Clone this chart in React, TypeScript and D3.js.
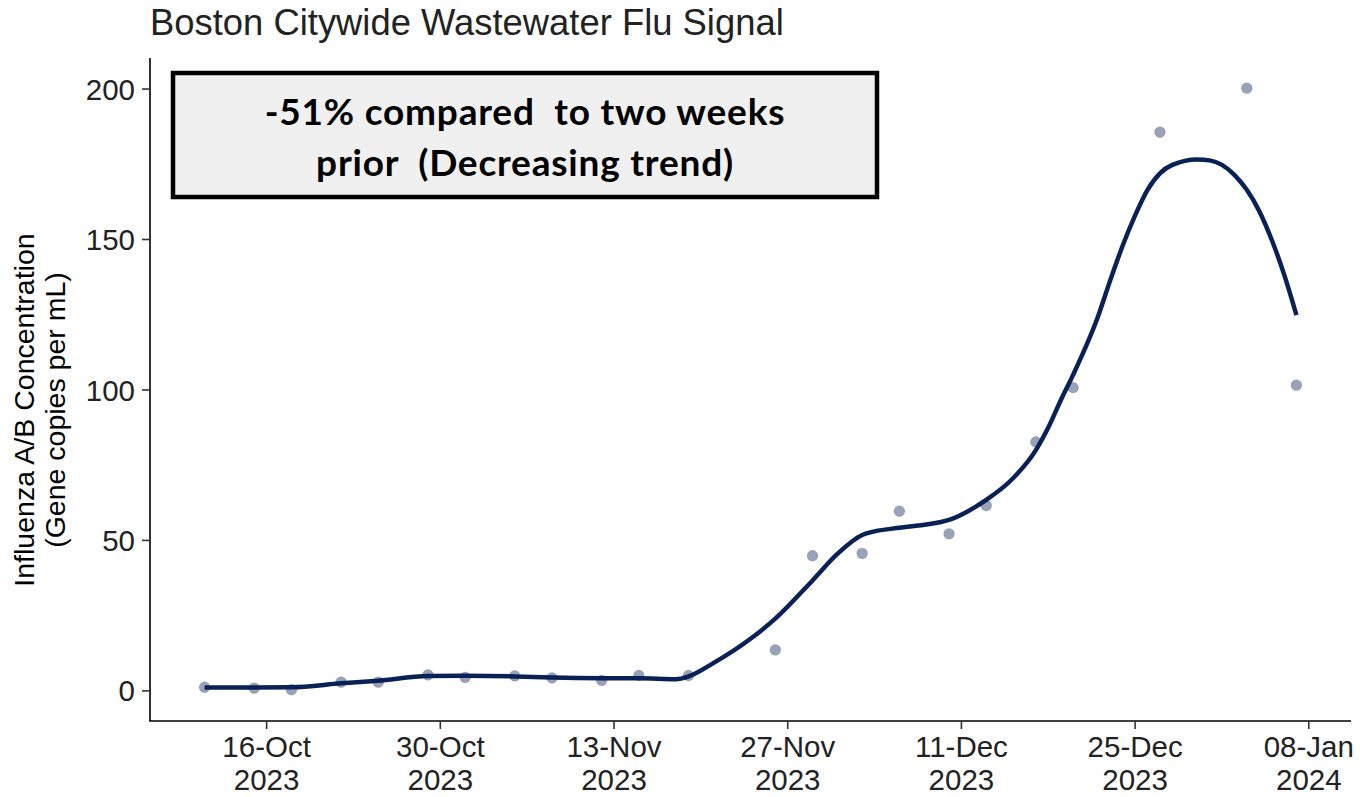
import React from "react";
import * as d3 from "d3";

const pointDates = [
  "2023-10-11", "2023-10-15", "2023-10-18", "2023-10-22", "2023-10-25", "2023-10-29",
  "2023-11-01", "2023-11-05", "2023-11-08", "2023-11-12", "2023-11-15", "2023-11-19",
  "2023-11-26", "2023-11-29", "2023-12-03", "2023-12-06", "2023-12-10", "2023-12-13",
  "2023-12-17", "2023-12-20", "2023-12-27", "2024-01-03", "2024-01-07",
];
const pointValues = [
  1.2, 0.9, 0.4, 2.9, 2.9, 5.3,
  4.5, 5.0, 4.3, 3.5, 5.1, 5.1,
  13.6, 44.9, 45.7, 59.7, 52.2, 61.6,
  82.7, 100.8, 185.7, 200.3, 101.6,
];

const smoothDates = [
  "2023-10-11", "2023-10-18", "2023-10-22", "2023-10-25", "2023-10-29", "2023-11-01",
  "2023-11-05", "2023-11-08", "2023-11-12", "2023-11-15", "2023-11-18", "2023-11-19",
  "2023-11-21", "2023-11-24", "2023-11-26", "2023-11-29", "2023-12-01", "2023-12-03",
  "2023-12-04", "2023-12-06", "2023-12-08", "2023-12-10", "2023-12-13", "2023-12-15",
  "2023-12-17", "2023-12-18", "2023-12-19", "2023-12-20", "2023-12-22", "2023-12-23",
  "2023-12-24", "2023-12-25", "2023-12-26", "2023-12-27", "2023-12-28", "2023-12-30",
  "2023-12-31", "2024-01-01", "2024-01-02", "2024-01-03", "2024-01-04", "2024-01-05",
  "2024-01-06", "2024-01-07",
];
const smoothValues = [
  1.1, 1.2, 2.5, 3.4, 4.9, 5.0,
  4.8, 4.4, 4.2, 4.2, 3.9, 4.8,
  9.2, 17.3, 24.0, 36.7, 45.5, 51.8,
  53.0, 54.2, 55.2, 56.8, 63.5, 70.0,
  80.0, 87.5, 96.5, 105.0, 124.3, 136.5,
  148.0, 158.0, 166.5, 172.0, 174.8, 176.6,
  176.3, 174.8, 171.5, 166.5, 159.5, 150.0,
  138.5, 124.9,
];

const yTicks = [0, 50, 100, 150, 200];
const xTickDates = [
  "2023-10-16", "2023-10-30", "2023-11-13", "2023-11-27",
  "2023-12-11", "2023-12-25", "2024-01-08",
];

const titleText = "Boston Citywide Wastewater Flu Signal";
const yTitleLines = ["Influenza A/B Concentration", "(Gene copies per mL)"];
const annotationLines = ["-51% compared  to two weeks", "prior  (Decreasing trend)"];

const parse = d3.utcParse("%Y-%m-%d");
const fmtDay = d3.utcFormat("%d-%b");
const fmtYear = d3.utcFormat("%Y");

export default function App() {
  const W = 1360, H = 797;
  const panel = { left: 150, right: 1351, top: 58, bottom: 721 };

  const pts = pointDates.map((d, i) => ({ date: parse(d)!, value: pointValues[i] }));
  const smooth = smoothDates.map((d, i) => ({ date: parse(d)!, value: smoothValues[i] }));

  const [dMin, dMax] = d3.extent(pts, (p) => p.date) as [Date, Date];
  const span = +dMax - +dMin;
  const x = d3
    .scaleUtc()
    .domain([new Date(+dMin - span * 0.05), new Date(+dMax + span * 0.05)])
    .range([panel.left, panel.right]);

  const yMax = d3.max(pts, (p) => p.value)!;
  const yMin = 0;
  const ySpan = yMax - yMin;
  const y = d3
    .scaleLinear()
    .domain([yMin - ySpan * 0.05, yMax + ySpan * 0.05])
    .range([panel.bottom, panel.top]);

  const line = d3
    .line<{ date: Date; value: number }>()
    .x((d) => x(d.date))
    .y((d) => y(d.value))
    .curve(d3.curveMonotoneX);

  const font = "'Liberation Sans', Arial, Helvetica, sans-serif";
  const xTicks = xTickDates.map((d) => parse(d)!);

  const boxX = 173, boxY = 73, boxW = 704, boxH = 124;

  return (
    <svg
      width={W}
      height={H}
      style={{ position: "absolute", left: 0, top: 0, background: "#fff" }}
      fontFamily={font}
    >
      <rect x={0} y={0} width={W} height={H} fill="#fff" />
      <text x={150} y={35} fontSize={36.4} fill="#222">
        {titleText}
      </text>

      {/* points */}
      {pts.map((p, i) => (
        <circle
          key={i}
          cx={x(p.date)}
          cy={y(p.value)}
          r={5.4}
          fill="#0a2156"
          fillOpacity={0.42}
          stroke="#0a2156"
          strokeOpacity={0.15}
          strokeWidth={1}
        />
      ))}

      {/* smooth line */}
      <path d={line(smooth)!} fill="none" stroke="#0a2156" strokeWidth={4.5} strokeLinejoin="round" strokeLinecap="butt" />

      {/* axes */}
      <line x1={panel.left} x2={panel.left} y1={panel.top} y2={panel.bottom} stroke="#000" strokeWidth={1.6} />
      <line x1={panel.left - 0.8} x2={panel.right} y1={panel.bottom} y2={panel.bottom} stroke="#000" strokeWidth={1.6} />

      {yTicks.map((t) => (
        <g key={t}>
          <line x1={panel.left - 8} x2={panel.left} y1={y(t)} y2={y(t)} stroke="#333" strokeWidth={1.6} />
          <text x={panel.left - 15} y={y(t)} dy="0.36em" textAnchor="end" fontSize={29.5} fill="#222">
            {t}
          </text>
        </g>
      ))}

      {xTicks.map((t, i) => (
        <g key={i}>
          <line x1={x(t)} x2={x(t)} y1={panel.bottom} y2={panel.bottom + 8} stroke="#333" strokeWidth={1.6} />
          <text x={x(t)} y={757} textAnchor="middle" fontSize={29.5} fill="#222">
            {fmtDay(t)}
          </text>
          <text x={x(t)} y={790} textAnchor="middle" fontSize={29.5} fill="#222">
            {fmtYear(t)}
          </text>
        </g>
      ))}

      {/* y axis title */}
      <text transform={`translate(34, 410) rotate(-90)`} textAnchor="middle" fontSize={28.5} fill="#000">
        <tspan x={0} dy={0}>{yTitleLines[0]}</tspan>
        <tspan x={0} dy={31}>{yTitleLines[1]}</tspan>
      </text>

      {/* annotation box */}
      <rect x={boxX} y={boxY} width={boxW} height={boxH} fill="#f0f0f0" stroke="#000" strokeWidth={4.5} />
      <text
        x={boxX + boxW / 2}
        textAnchor="middle"
        fontFamily="Lato, 'Open Sans', sans-serif"
        fontWeight="bold"
        fontSize={37}
        letterSpacing={0.8}
        fill="#000"
        style={{ whiteSpace: "pre" }}
      >
        <tspan x={boxX + boxW / 2} y={125}>{annotationLines[0]}</tspan>
        <tspan x={boxX + boxW / 2} y={176}>{annotationLines[1]}</tspan>
      </text>
    </svg>
  );
}
